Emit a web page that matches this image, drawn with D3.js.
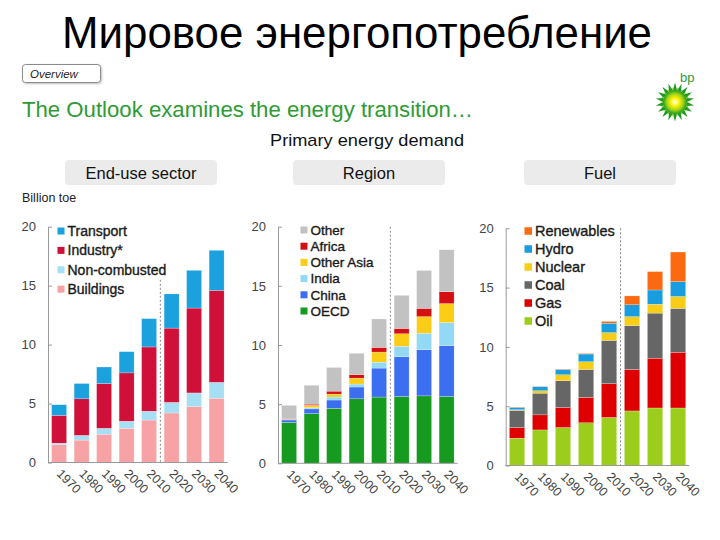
<!DOCTYPE html>
<html><head><meta charset="utf-8">
<script src="https://cdn.jsdelivr.net/npm/d3@7"></script>
<style>
html,body{margin:0;padding:0;background:#fff;}
svg{display:block;font-family:"Liberation Sans",Arial,sans-serif;}
</style></head>
<body><svg id="c" width="720" height="540"></svg>
<script>
// ---- data ----
const years = ["1970","1980","1990","2000","2010","2020","2030","2040"];
const yTicks = [0,5,10,15,20];

// End-use sector (Billion toe)
const buildings    = [1.5, 1.9, 2.4, 2.9, 3.6, 4.2, 4.75, 5.45];
const nonCombusted = [0.14,0.4, 0.5, 0.6, 0.75,0.9, 1.15, 1.35];
const industry     = [2.36,3.1, 3.8, 4.1, 5.45,6.3, 7.2,  7.8];
const transport    = [0.9, 1.3, 1.4, 1.8, 2.4, 2.9, 3.2,  3.4];
const sectorNames  = ["Buildings","Non-combusted","Industry*","Transport"];

// Region
const oecd        = [3.45,4.2, 4.65,5.45,5.6, 5.65,5.7, 5.65];
const china       = [0.21,0.4, 0.7, 1.0, 2.45,3.35,3.9, 4.3];
const india       = [0.04,0.1, 0.25,0.25,0.5, 0.9, 1.4, 1.95];
const otherAsia   = [0.02,0.2, 0.25,0.5, 0.85,1.05,1.4, 1.6];
const africa      = [0.03,0.1, 0.25,0.3, 0.4, 0.45,0.7, 1.0];
const otherRegion = [1.15,1.6, 2.0, 1.8, 2.4, 2.8, 3.2, 3.55];
const regionNames = ["OECD","China","India","Other Asia","Africa","Other"];

// Fuel
const oil        = [2.3, 3.0, 3.2, 3.6, 4.05,4.6, 4.85,4.85];
const gas        = [0.9, 1.27,1.7, 2.15,2.85,3.5, 4.2, 4.7];
const coal       = [1.45,1.83,2.25,2.35,3.65,3.7, 3.8, 3.7];
const nuclear    = [0.05,0.2, 0.5, 0.65,0.65,0.75,0.75,1.0];
const hydro      = [0.2, 0.35,0.45,0.65,0.8, 1.0, 1.2, 1.25];
const renewables = [0.03,0.02,0.03,0.05,0.15,0.75,1.55,2.5];
const fuelNames  = ["Oil","Gas","Coal","Nuclear","Hydro","Renewables"];

// ---- drawing ----
const svg = d3.select("#c");

// Title
svg.append("text").attr("x",357).attr("y",48).attr("text-anchor","middle")
  .attr("font-size",44).attr("fill","#000").attr("textLength",590).attr("lengthAdjust","spacingAndGlyphs")
  .text("Мировое энергопотребление");

// Overview tag
const defs = svg.append("defs");
const sh = defs.append("filter").attr("id","sh").attr("x","-10%").attr("y","-20%").attr("width","130%").attr("height","160%");
sh.append("feDropShadow").attr("dx",1).attr("dy",1).attr("stdDeviation",0.8).attr("flood-color","#000").attr("flood-opacity",0.25);
svg.append("rect").attr("x",22.5).attr("y",64.5).attr("width",78).attr("height",18).attr("rx",3)
  .attr("fill","#fff").attr("stroke","#8a8a8a").attr("filter","url(#sh)");
svg.append("text").attr("x",30).attr("y",77.5).attr("font-size",11.5).attr("font-style","italic")
  .attr("fill","#222").text("Overview");

// Subtitle
svg.append("text").attr("x",22).attr("y",117).attr("font-size",22).attr("fill","#2f9a36")
  .attr("textLength",451).attr("lengthAdjust","spacingAndGlyphs")
  .text("The Outlook examines the energy transition…");
svg.append("text").attr("x",367).attr("y",146).attr("text-anchor","middle").attr("font-size",17)
  .attr("fill","#111").attr("textLength",194).attr("lengthAdjust","spacingAndGlyphs")
  .text("Primary energy demand");

// bp logo
const logo = svg.append("g").attr("transform","translate(675,102)");
const rg = defs.append("radialGradient").attr("id","sun");
rg.append("stop").attr("offset","0%").attr("stop-color","#ffffff");
rg.append("stop").attr("offset","35%").attr("stop-color","#fff200");
rg.append("stop").attr("offset","70%").attr("stop-color","#9bd21a");
rg.append("stop").attr("offset","100%").attr("stop-color","#1e9a1e");
const petals = d3.range(18);
logo.selectAll("path.pet").data(petals).join("path")
  .attr("d", i => {
    const a = i*2*Math.PI/18, w = Math.PI/18;
    const p = (r,t)=>[r*Math.sin(t), -r*Math.cos(t)];
    const a1=p(12,a-w), tip=p(19.5,a), a2=p(12,a+w);
    return `M${a1}L${tip}L${a2}Z`;
  }).attr("fill","#1f9a22");
logo.selectAll("path.pet2").data(petals).join("path")
  .attr("d", i => {
    const a = (i+0.5)*2*Math.PI/18, w = Math.PI/18;
    const p = (r,t)=>[r*Math.sin(t), -r*Math.cos(t)];
    const a1=p(9,a-w), tip=p(15,a), a2=p(9,a+w);
    return `M${a1}L${tip}L${a2}Z`;
  }).attr("fill","#8cc81e");
logo.append("circle").attr("r",12).attr("fill","url(#sun)");
svg.append("text").attr("x",680).attr("y",82).attr("font-size",13).attr("fill","#2f9a36").text("bp");

// Tabs
const tabs = [{x:65,label:"End-use sector"},{x:293,label:"Region"},{x:524,label:"Fuel"}];
tabs.forEach(t=>{
  svg.append("rect").attr("x",t.x).attr("y",160).attr("width",152).attr("height",25).attr("rx",4).attr("fill","#ebebeb");
  svg.append("text").attr("x",t.x+76).attr("y",179).attr("text-anchor","middle").attr("font-size",16.5)
    .attr("fill","#111").text(t.label);
});

svg.append("text").attr("x",22).attr("y",202).attr("font-size",12.5).attr("fill","#222").text("Billion toe");

function panel(cfg){
  const g = svg.append("g");
  const table = years.map((yr,i)=>{
    const row = {year:yr};
    cfg.keys.forEach((k,j)=>row[k]=cfg.series[j][i]);
    return row;
  });
  const stack = d3.stack().keys(cfg.keys)(table);
  const x = d3.scaleBand().domain(years).range([cfg.x0, cfg.x1]).paddingInner(0.333).paddingOuter(0.16);
  const y = d3.scaleLinear().domain([0,20]).range([cfg.yb, cfg.yt]);

  g.selectAll("g.layer").data(stack).join("g")
    .attr("fill",(d,i)=>cfg.colors[i])
    .selectAll("rect").data(d=>d).join("rect")
    .attr("x",d=>x(d.data.year)).attr("width",x.bandwidth())
    .attr("y",d=>y(d[1])).attr("height",d=>Math.max(0,y(d[0])-y(d[1])))
    .attr("stroke","#fff").attr("stroke-width",0.4).attr("stroke-opacity",0.6);

  // y axis
  const ya = g.append("g").attr("transform",`translate(${cfg.x0},0)`)
    .call(d3.axisLeft(y).tickValues(yTicks).tickSizeInner(-4).tickSizeOuter(0).tickPadding(12));
  ya.select(".domain").attr("stroke","#9a9a9a");
  ya.selectAll(".tick line").attr("stroke","#9a9a9a");
  ya.selectAll(".tick text").attr("font-size",13).attr("fill","#444").attr("font-family","Liberation Sans, Arial, sans-serif");

  // x axis
  const xa = g.append("g").attr("transform",`translate(0,${cfg.yb})`)
    .call(d3.axisBottom(x).tickSize(0).tickPadding(0));
  xa.select(".domain").attr("stroke","#9a9a9a").attr("d",`M${cfg.x0},0H${cfg.x1}`);
  xa.selectAll(".tick text").attr("font-size",12.5).attr("fill","#444")
    .attr("font-family","Liberation Sans, Arial, sans-serif")
    .attr("text-anchor","start").attr("dy",0)
    .attr("transform","translate(-3,12) rotate(45)");

  // dashed projection divider
  const xd = (x("2010")+x.bandwidth()+x("2020"))/2;
  g.append("line").attr("x1",xd).attr("x2",xd).attr("y1",y(cfg.dashTop)).attr("y2",cfg.yb)
    .attr("stroke","#888").attr("stroke-dasharray","2,2").attr("stroke-width",1);

  // legend (top to bottom = reverse stack order)
  const leg = cfg.keys.map((k,i)=>({k, c:cfg.colors[i]})).reverse();
  leg.forEach((d,i)=>{
    const yy = cfg.legY + i*cfg.legDy;
    g.append("rect").attr("x",cfg.legX).attr("y",yy-cfg.sq/2).attr("width",cfg.sq).attr("height",cfg.sq).attr("fill",d.c);
    g.append("text").attr("x",cfg.legX+cfg.sq+3).attr("y",yy).attr("dy","0.36em")
      .attr("font-size",cfg.legFs).attr("fill","#1a1a1a")
      .attr("stroke","#1a1a1a").attr("stroke-width",0.35).text(d.k);
  });
}

panel({keys:sectorNames, series:[buildings,nonCombusted,industry,transport],
  colors:["#f7a3a5","#a6def4","#cf1039","#1ba1de"],
  x0:48, x1:227.7, yb:462.5, yt:226.7, dashTop:15.5,
  legX:57.5, legY:231, legDy:19.4, sq:7, legFs:14});

panel({keys:regionNames, series:[oecd,china,india,otherAsia,africa,otherRegion],
  colors:["#169a1f","#3c6ef0","#93d8f5","#fccd16","#d40f12","#c2c2c2"],
  x0:278, x1:457.7, yb:463.3, yt:226.7, dashTop:20,
  legX:300.5, legY:230, legDy:16.2, sq:7, legFs:13.5});

panel({keys:fuelNames, series:[oil,gas,coal,nuclear,hydro,renewables],
  colors:["#9ccc1c","#de0000","#666666","#f8cd16","#199ddf","#fb6a10"],
  x0:505.7, x1:689.4, yb:465.5, yt:228.3, dashTop:20,
  legX:524.5, legY:231, legDy:18, sq:7.5, legFs:14.5});
</script></body></html>
